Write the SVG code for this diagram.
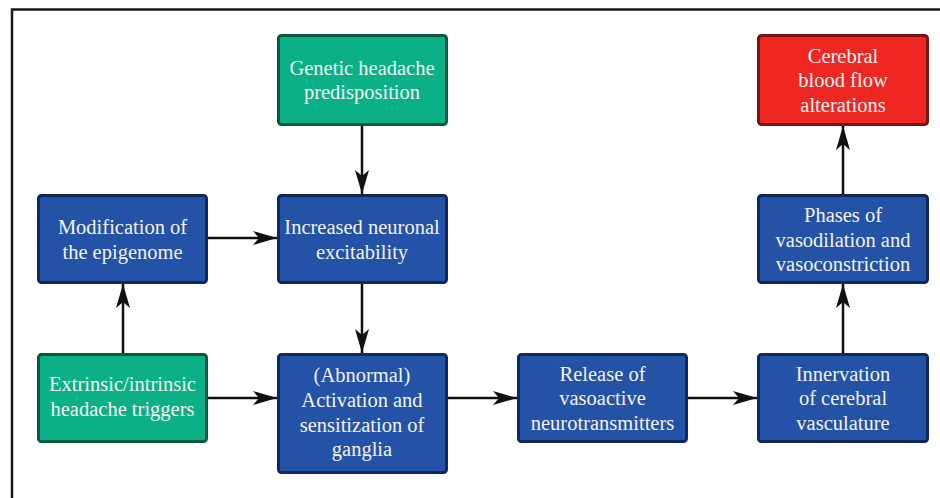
<svg xmlns="http://www.w3.org/2000/svg" width="940" height="498" viewBox="0 0 940 498">
<style>
.box{stroke-width:3}
.blue{fill:#2452a6;stroke:#14275a}
.green{fill:#0bb087;stroke:#0b5a3e}
.red{fill:#ee2722;stroke:#7a1414}
text{font-size:20.5px;fill:#f2f2f2;text-anchor:middle}
.edge{stroke:#111;stroke-width:2.5;fill:none;marker-end:url(#ah)}
</style>
<defs>
<marker id="ah" viewBox="0 0 24 14" refX="24" refY="7" markerWidth="24" markerHeight="14" markerUnits="userSpaceOnUse" orient="auto">
<path d="M0,0 L24,7 L0,14 L6,7 Z" fill="#111"/>
</marker>
</defs>
<rect x="0" y="0" width="940" height="498" fill="#fff"/>
<g id="frame">
<path d="M12,498 L12,9.5 L940,9.5" fill="none" stroke="#1a1a1a" stroke-width="2.5"/>
</g>
<g id="connectors">
<path class="edge" d="M362,126 L362,194"/>
<path class="edge" d="M208,238 L277,238"/>
<path class="edge" d="M123,353 L123,284"/>
<path class="edge" d="M362,284 L362,353"/>
<path class="edge" d="M208,398 L277,398"/>
<path class="edge" d="M448,398 L517,398"/>
<path class="edge" d="M688,398 L757,398"/>
<path class="edge" d="M843,353 L843,284"/>
<path class="edge" d="M843,194 L843,126"/>
</g>
<g font-family="'Liberation Serif', 'DejaVu Serif', serif">
<g id="genetic">
<rect class="box green" x="278.5" y="35.5" width="168" height="89" rx="3"/>
<text x="362" y="74.5">Genetic headache</text>
<text x="362" y="99">predisposition</text>
</g>
<g id="cerebral">
<rect class="box red" x="758.5" y="35.5" width="169" height="89" rx="3"/>
<text x="843" y="62.5">Cerebral</text>
<text x="843" y="87">blood flow</text>
<text x="843" y="111.5">alterations</text>
</g>
<g id="modification">
<rect class="box blue" x="38.5" y="195.5" width="168" height="87" rx="3"/>
<text x="122.5" y="234">Modification of</text>
<text x="122.5" y="258.5">the epigenome</text>
</g>
<g id="increased">
<rect class="box blue" x="278.5" y="195.5" width="168" height="87" rx="3"/>
<text x="362" y="234">Increased neuronal</text>
<text x="362" y="258.5">excitability</text>
</g>
<g id="phases">
<rect class="box blue" x="758.5" y="195.5" width="169" height="87" rx="3"/>
<text x="843" y="222">Phases of</text>
<text x="843" y="246.5">vasodilation and</text>
<text x="843" y="271">vasoconstriction</text>
</g>
<g id="extrinsic">
<rect class="box green" x="38.5" y="354.5" width="168" height="87" rx="3"/>
<text x="122.5" y="391">Extrinsic/intrinsic</text>
<text x="122.5" y="416">headache triggers</text>
</g>
<g id="abnormal">
<rect class="box blue" x="278.5" y="354.5" width="168" height="118" rx="3"/>
<text x="362" y="381.5">(Abnormal)</text>
<text x="362" y="406.5">Activation and</text>
<text x="362" y="431.5">sensitization of</text>
<text x="362" y="455.5">ganglia</text>
</g>
<g id="release">
<rect class="box blue" x="518.5" y="354.5" width="168" height="87" rx="3"/>
<text x="602.5" y="380.5">Release of</text>
<text x="602.5" y="405">vasoactive</text>
<text x="602.5" y="429.5">neurotransmitters</text>
</g>
<g id="innervation">
<rect class="box blue" x="758.5" y="354.5" width="169" height="87" rx="3"/>
<text x="843" y="380.5">Innervation</text>
<text x="843" y="405">of cerebral</text>
<text x="843" y="429.5">vasculature</text>
</g>
</g>
</svg>
